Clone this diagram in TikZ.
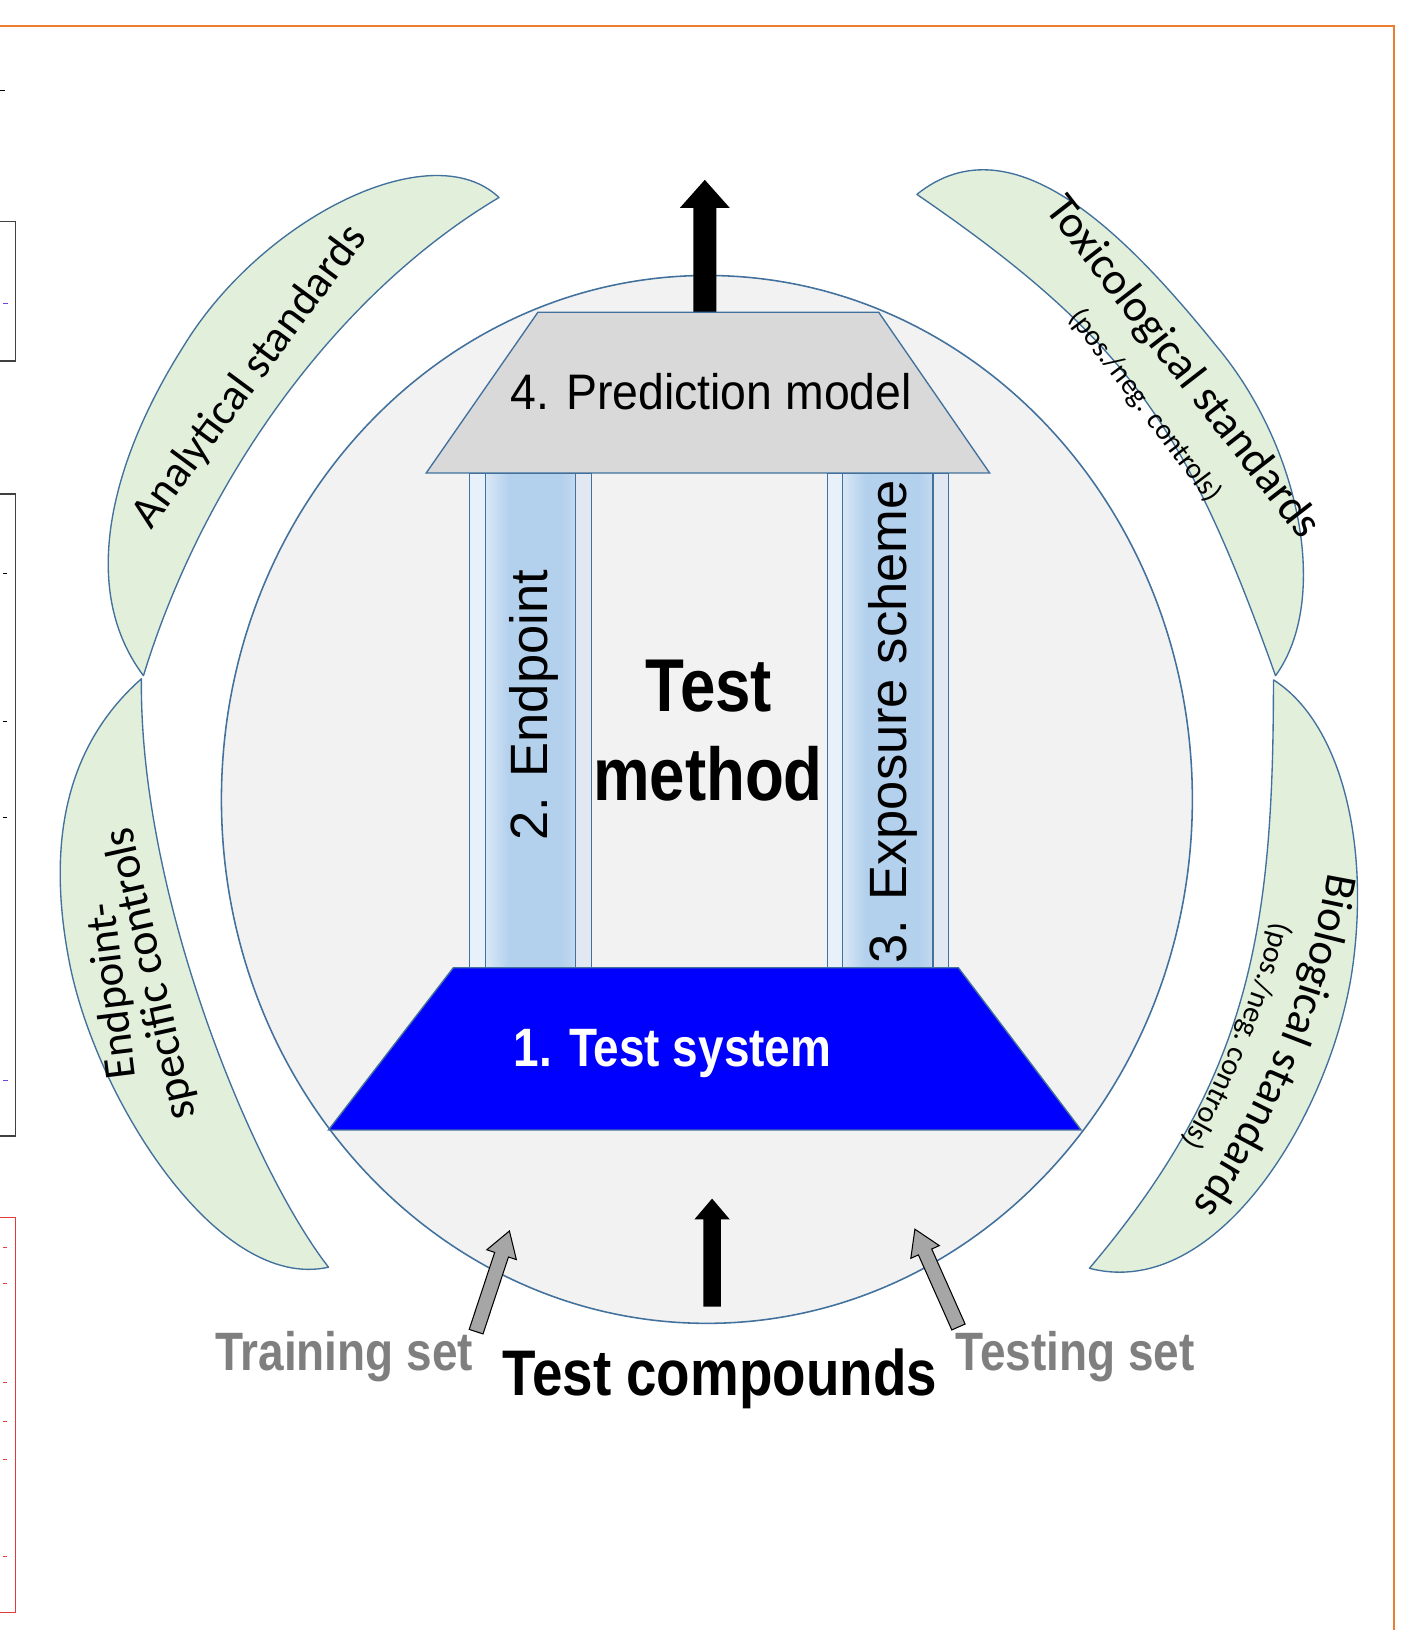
\documentclass[tikz,border=0pt]{standalone}
\usepackage{fontspec}
\setmainfont{Liberation Sans}
\newfontfamily\fpred[FakeStretch=0.93]{Liberation Sans}
\newfontfamily\fnarrow[FakeStretch=0.85]{Liberation Sans}
\newfontfamily\fcal{Carlito}
\usetikzlibrary{decorations.text}
\definecolor{edge}{HTML}{41719C}
\definecolor{circfill}{HTML}{F2F2F2}
\definecolor{predfill}{HTML}{D9D9D9}
\definecolor{crescfill}{HTML}{E2EFDA}
\definecolor{orangeb}{HTML}{ED7D31}
\definecolor{graytxt}{HTML}{7F7F7F}
\definecolor{grayarrow}{HTML}{A6A6A6}
\definecolor{bandlight}{HTML}{D9E8F6}
\definecolor{bandmid}{HTML}{B3D0ED}
\definecolor{bandright}{HTML}{C4DAF0}
\definecolor{stripL}{HTML}{E8F0F9}
\definecolor{stripR}{HTML}{E1E8F1}
\definecolor{tickpurple}{HTML}{7040E0}
\definecolor{redbox}{HTML}{E03C3C}
\tikzset{
  outl/.style={draw=edge, line width=1.3pt},
  cresc/.style={fill=crescfill, draw=edge, line width=1.3pt, line join=round},
  stripleft/.style={fill=stripL, draw=edge, line width=1pt},
  stripright/.style={fill=stripR, draw=edge, line width=1pt},
  bandedge/.style={draw=edge, line width=1pt},
  grayarr/.style={fill=grayarrow, draw=black, line width=1pt, line join=miter},
  boldtxt/.style={font=\fnarrow\bfseries\fontsize{#1}{#1}\selectfont, inner sep=0pt},
  calibtxt/.style={font=\fcal\fontsize{#1}{#1}\selectfont, inner sep=0pt},
  regtxt/.style={font=\fontsize{#1}{#1}\selectfont, inner sep=0pt},
  sidetick/.style={line width=1pt}
}
\begin{document}
\begin{tikzpicture}[x=1pt,y=-1pt]
\useasboundingbox (0,0) rectangle (1347,1568);
\fill[white] (0,0) rectangle (1347,1568);

% orange frame
\draw[orangeb, line width=2pt] (-3,25) -- (1341,25) -- (1341,1572);

% partial boxes at the left edge
\draw[black!75, line width=1.5pt] (-5,213) -- (15,213) -- (15,347) -- (-5,347);
\draw[black!75, line width=1.5pt] (-5,475) -- (15,475) -- (15,1093) -- (-5,1093);
\draw[redbox, line width=1.5pt] (-5,1171) -- (15,1171) -- (15,1551) -- (-5,1551);
\draw[sidetick, black] (0,87) -- (5,87);
\draw[sidetick, tickpurple] (3,292) -- (8,292);
\draw[sidetick, black] (3,552) -- (7,552);
\draw[sidetick, black] (3,694) -- (7,694);
\draw[sidetick, black] (3,786) -- (7,786);
\draw[sidetick, tickpurple] (3,1039) -- (8,1039);
\foreach \yy in {1200,1235,1330,1367,1404,1497} \draw[sidetick, redbox] (3,\yy) -- (7,\yy);

% crescents
\filldraw[cresc] (480,190) .. controls (415,128) and (251,210) .. (176,334)
  .. controls (112,435) and (72,562) .. (138,650)
  .. controls (196,460) and (325,282) .. (480,190) -- cycle;
\filldraw[cresc] (136,653) .. controls (76,706) and (40,790) .. (67,927)
  .. controls (92,1054) and (208,1243) .. (316,1219)
  .. controls (243,1125) and (134,863) .. (136,653) -- cycle;
\filldraw[cresc] (882,187) .. controls (975,112) and (1087,230) .. (1171,334)
  .. controls (1251,430) and (1280,577) .. (1227,650)
  .. controls (1143,415) and (1088,328) .. (882,187) -- cycle;
\filldraw[cresc] (1225,654) .. controls (1288,694) and (1317,805) .. (1302,924)
  .. controls (1285,1063) and (1174,1253) .. (1048,1220)
  .. controls (1203,1037) and (1225,894) .. (1225,654) -- cycle;

% main circle
\filldraw[fill=circfill, draw=edge, line width=1.5pt] (680,769) ellipse [x radius=467, y radius=504];

% output arrow on top
\fill[black] (667,300) -- (667,200) -- (654,200) -- (678,173) -- (702,200) -- (689,200) -- (689,300) -- cycle;

% columns
\filldraw[stripleft] (452,455) rectangle (467,931);
\shade[left color=bandlight, right color=bandmid] (467,455) rectangle (490,931);
\fill[bandmid] (489.5,455) rectangle (540.5,931);
\shade[left color=bandmid, right color=bandright] (540,455) rectangle (554,931);
\draw[bandedge] (467,455) rectangle (554,931);
\filldraw[stripright] (554,455) rectangle (569,931);
\filldraw[stripleft] (796,455) rectangle (810,931);
\shade[left color=bandlight, right color=bandmid] (810,455) rectangle (833,931);
\fill[bandmid] (832.5,455) rectangle (884.5,931);
\shade[left color=bandmid, right color=bandright] (884,455) rectangle (897.5,931);
\draw[bandedge] (810,455) rectangle (897.5,931);
\filldraw[stripright] (897.5,455) rectangle (912,931);

% prediction model roof
\filldraw[fill=predfill, outl] (517.5,300.3) -- (845.2,300.3) -- (952,455) -- (410,455) -- cycle;

% test system base
\filldraw[fill=blue, outl] (436,931) -- (922,931) -- (1040,1087) -- (316,1087) -- cycle;

% input arrow
\fill[black] (676.5,1257) -- (676.5,1173) -- (668,1173) -- (685,1153) -- (702,1173) -- (693.5,1173) -- (693.5,1257) -- cycle;

% gray arrows
\begin{scope}[shift={(458,1281)}, rotate=71.7]
  \filldraw[grayarr] (0,-7) -- (78,-7) -- (78,-15) -- (102,0) -- (78,15) -- (78,7) -- (0,7) -- cycle;
\end{scope}
\begin{scope}[shift={(922,1276.5)}, rotate=114]
  \filldraw[grayarr] (0,-7) -- (79,-7) -- (79,-15) -- (103,0) -- (79,15) -- (79,7) -- (0,7) -- cycle;
\end{scope}

% texts in the temple
\node (pred) [font=\fpred\fontsize{48}{48}\selectfont, inner sep=0pt, anchor=base] at (684,394) {4. Prediction model};
\node (endp) [regtxt=50.5, rotate=90, anchor=base] at (527,678.5) {2. Endpoint};
\node (expo) [regtxt=50.5, rotate=90, anchor=base] at (872,694.6) {3. Exposure scheme};
\node (tmtest) [boldtxt=72, anchor=base] at (682,684) {Test};
\node (tmmethod) [boldtxt=72, anchor=base] at (681,770) {method};
\node (tsys) [boldtxt=52, text=white, anchor=base] at (647,1026) {1. Test system};
\node (tcomp) [boldtxt=62, anchor=base] at (692.5,1342) {Test compounds};
\node (train) [boldtxt=52, text=graytxt, anchor=base] at (331,1318) {Training set};
\node (testing) [boldtxt=52, text=graytxt, anchor=base] at (1034,1318) {Testing set};

% crescent labels
\node (anal) [calibtxt=43, rotate=53.5, anchor=base] at (249.5,369.5) {Analytical standards};
\node (tox) [calibtxt=43.5, rotate=-52.2, anchor=base] at (1128,361) {Toxicological standards};
\node (toxsub) [calibtxt=28, rotate=-53, anchor=base] at (1095,395) {(pos./neg. controls)};
\node (epc1) [calibtxt=43, rotate=97, anchor=base] at (120.3,952) {Endpoint-};
\node (epc2) [calibtxt=44, rotate=102.5, anchor=base] at (157.2,934.2) {specific controls};
\path[decorate, decoration={text along path, text align=center,
  text={|\fcal\fontsize{43}{43}\selectfont|Biological standards}}]
  (467.5,698.7) ++(-3:822) arc (-3:47:822);
\path[decorate, decoration={text along path, text align=center,
  text={|\fcal\fontsize{29}{29}\selectfont|(pos./neg. controls)}}]
  (467.5,698.7) ++(-3:780) arc (-3:47.8:780);
\end{tikzpicture}
\end{document}
